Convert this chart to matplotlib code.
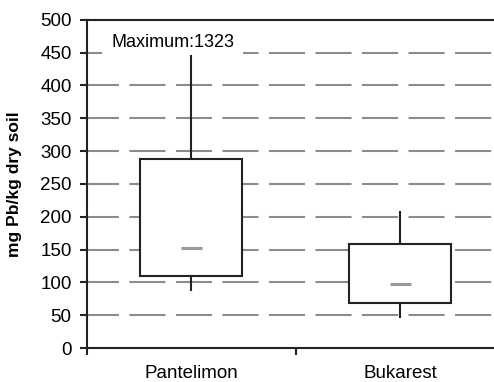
import matplotlib
matplotlib.use("Agg")
import matplotlib.pyplot as plt

plt.rcParams['font.family'] = ['Liberation Sans', 'DejaVu Sans']
plt.rcParams['lines.scale_dashes'] = False

sites = ["Pantelimon", "Bukarest"]
q1 = [109, 68]
q3 = [288, 158]
med = [152, 97]
whislo = [88, 47]
whishi = [445, 207]
max_note = "Maximum:1323"

yticks = list(range(0, 501, 50))

fig = plt.figure(figsize=(4.94, 3.82), dpi=100)
ax = fig.add_axes([0.176, 0.089, 0.824, 0.859])

stats = []
for i, name in enumerate(sites):
    stats.append(dict(label=name, q1=q1[i], q3=q3[i], med=med[i],
                      whislo=whislo[i], whishi=whishi[i], fliers=[]))

pos = [1, 2]
ax.bxp(stats, positions=pos, widths=0.49, showcaps=False, patch_artist=True,
       boxprops=dict(facecolor='white', edgecolor='#222222', linewidth=1.5),
       whiskerprops=dict(color='#222222', linewidth=1.5, zorder=2.6),
       medianprops=dict(linewidth=0), zorder=2)
# short grey median marks
ax.hlines(med, [p - 0.05 for p in pos], [p + 0.05 for p in pos],
          colors='#9a9a9a', linewidth=2.2, zorder=3)

for y in yticks[1:-1]:
    ax.axhline(y, color='#8c8c8c', linewidth=1.5, linestyle=(3, (26, 7.5)), zorder=1)

ax.text(0.91, 466, max_note, ha='center', va='center', fontsize=13,
        zorder=2.2, bbox=dict(boxstyle='square,pad=0.5', facecolor='white', edgecolor='none'))

ax.set_xlim(0.5, 2.45)
ax.set_ylim(0, 500)
ax.set_yticks(yticks)
ax.set_xticks([0.5, 1.5])
ax.set_xticklabels([])
ax.set_xticks(pos, minor=True)
ax.set_xticklabels(sites, minor=True)
ax.tick_params(axis='x', which='minor', length=0, pad=12, labelsize=13.5)
ax.tick_params(axis='x', which='major', length=5, width=1.5, color='#222222')
ax.tick_params(axis='y', length=5, width=1.5, color='#222222', pad=6, labelsize=13.5)

for s in ['left', 'bottom', 'top']:
    ax.spines[s].set_color('#222222')
    ax.spines[s].set_linewidth(1.5)
ax.spines['right'].set_visible(False)

ax.set_ylabel("mg Pb/kg dry soil", fontsize=12.5, fontweight='bold', labelpad=8)
ax.yaxis.set_label_coords(-0.16, 0.5)

fig.savefig("out.png", dpi=100)
